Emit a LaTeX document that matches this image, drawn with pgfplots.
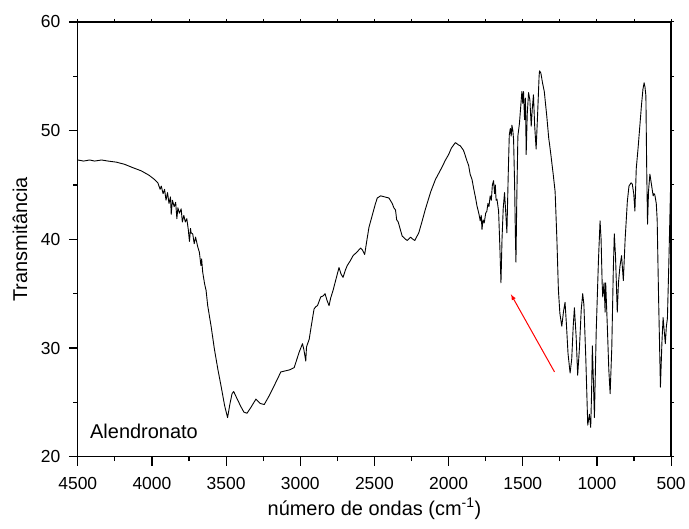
\documentclass[border=0pt]{standalone}
\usepackage{fontspec}
\setmainfont{Liberation Sans}
\usepackage{pgfplots}
\pgfplotsset{compat=1.18}

% IR spectrum, values
\pgfplotstableread{
wn T
4500 47.3
4460 47.2
4420 47.3
4386 47.2
4340 47.3
4296 47.2
4240 47.1
4184 46.9
4130 46.6
4072 46.3
4020 45.9
3982 45.5
3960 45.2
3945 44.6
3937 44.9
3925 44.2
3915 44.6
3905 43.6
3895 44.3
3885 43.3
3875 43.9
3870 42.3
3862 43.6
3850 43.0
3840 43.4
3832 41.9
3825 42.9
3815 42.4
3803 42.8
3795 41.6
3785 42.2
3775 41.6
3765 41.9
3755 40.9
3747 39.8
3740 41.0
3736 40.6
3725 40.5
3715 39.6
3706 40.2
3691 39.3
3680 38.8
3670 37.6
3665 38.2
3658 37.0
3645 35.9
3635 35.3
3624 33.9
3600 31.9
3579 29.9
3555 28.0
3534 26.5
3510 24.7
3490 23.6
3475 24.8
3460 25.8
3449 26.0
3425 25.3
3400 24.6
3380 24.1
3359 24.0
3330 24.6
3299 25.3
3270 24.9
3243 24.8
3210 25.6
3170 26.7
3131 27.8
3100 27.9
3070 28.0
3041 28.2
3008 29.6
2985 30.4
2975 29.8
2963 28.8
2958 30.1
2940 30.8
2925 32.1
2907 33.6
2895 33.8
2884 33.9
2862 34.7
2845 34.8
2833 35.0
2820 34.4
2806 33.9
2795 34.6
2779 35.3
2760 36.3
2739 37.4
2725 36.8
2712 36.5
2695 37.2
2683 37.6
2664 38.0
2644 38.5
2620 38.8
2593 39.2
2580 39.0
2566 38.6
2550 40.0
2537 41.1
2515 42.2
2495 43.2
2481 43.8
2458 44.0
2430 43.9
2402 43.8
2380 43.3
2369 42.9
2358 42.7
2350 41.8
2340 41.6
2313 40.3
2290 40.0
2279 39.9
2257 40.2
2240 40.0
2228 39.9
2201 40.6
2180 41.6
2156 42.8
2120 44.4
2089 45.5
2050 46.5
2021 47.3
2000 47.8
1981 48.4
1960 48.8
1954 48.9
1935 48.7
1921 48.6
1900 48.2
1890 47.8
1876 47.2
1865 46.8
1855 46.0
1842 45.5
1830 44.6
1818 43.8
1809 43.1
1795 42.3
1787 41.7
1780 42.2
1775 40.9
1768 41.8
1760 41.5
1750 42.4
1742 42.6
1735 43.3
1728 43.0
1720 44.0
1712 43.6
1705 45.0
1697 45.4
1690 44.2
1685 45.0
1680 43.6
1674 43.7
1663 42.6
1655 39.5
1647 36.0
1640 40.0
1632 42.8
1623 44.3
1615 42.5
1607 40.6
1598 46.0
1591 49.6
1584 50.2
1578 49.5
1573 50.5
1567 50.0
1562 49.2
1555 45.0
1550 40.5
1546 37.9
1540 44.0
1533 49.5
1523 50.6
1515 52.0
1506 53.6
1500 52.5
1495 53.6
1488 51.0
1482 53.0
1477 47.8
1470 51.5
1461 53.5
1452 52.8
1443 50.4
1436 52.0
1428 53.3
1420 50.5
1410 48.3
1400 51.5
1390 55.0
1387 55.5
1378 55.3
1367 54.4
1355 53.6
1338 51.3
1325 49.3
1318 48.6
1309 47.6
1295 46.0
1282 44.4
1270 40.0
1260 35.4
1250 33.2
1237 32.0
1225 33.4
1215 34.2
1205 32.0
1195 29.5
1181 27.7
1170 29.0
1160 32.0
1152 33.7
1140 31.0
1130 27.5
1118 30.0
1106 33.5
1096 35.0
1088 34.0
1075 29.0
1062 22.9
1051 23.9
1042 22.7
1036 26.0
1031 30.2
1024 27.0
1017 23.6
1005 31.5
990 38.0
979 41.7
972 40.0
965 36.0
961 34.7
952 36.0
945 33.3
941 36.0
930 32.0
920 28.0
911 25.8
900 30.0
890 37.0
883 40.5
875 38.5
868 35.5
863 33.3
855 36.0
845 37.5
834 38.5
822 36.2
810 40.0
795 43.5
784 44.9
770 45.2
762 45.1
752 44.2
744 42.6
735 46.5
722 48.5
711 50.4
700 52.3
690 53.8
682 54.4
676 54.0
670 53.2
665 47.0
659 41.4
652 44.5
643 46.0
632 45.0
621 44.0
615 44.2
610 44.1
600 43.3
594 41.8
585 35.0
572 26.4
562 30.5
554 32.8
546 31.5
539 30.4
532 32.0
525 32.7
515 38.0
502 45.8
}\spectrum

\begin{document}
\begin{tikzpicture}
\begin{axis}[
    width=595pt, height=436pt,
    scale only axis,
    xmin=500, xmax=4500,
    ymin=20, ymax=60,
    x dir=reverse,
    xtick={500,1000,...,4500},
    ytick={20,30,...,60},
    minor x tick num=1,
    minor y tick num=1,
    tick pos=left,
    tick align=outside,
    major tick length=9pt,
    minor tick length=4.5pt,
    axis line style={line width=1.3pt},
    tick style={black, line width=1.2pt},
    /pgf/number format/assume math mode=true,
    /pgf/number format/1000 sep={},
    tick label style={font=\fontsize{17.5}{20}\selectfont},
    x tick label style={yshift=-8pt},
    y tick label style={xshift=-5pt},
    xlabel={número de ondas (cm\textsuperscript{-1})},
    ylabel={Transmitância},
    label style={font=\fontsize{20}{24}\selectfont},
    xlabel style={at={(axis description cs:0.5,0)}, anchor=center, yshift=-52pt},
    ylabel style={at={(axis description cs:0,0.5)}, anchor=center, yshift=58pt},
    clip=false,
]
\addplot[black, line width=0.9pt, line join=round] table[x=wn, y=T] {\spectrum};
\draw[red, line width=1pt, -latex] (axis cs:1286,27.8) -- (axis cs:1580,34.95);
\node[anchor=west, font=\fontsize{20}{24}\selectfont] at (axis cs:4440,22.3) {Alendronato};
\end{axis}
% mirrored small ticks on top and right
\begin{axis}[
    width=595pt, height=436pt,
    scale only axis,
    xmin=500, xmax=4500,
    ymin=20, ymax=60,
    x dir=reverse,
    xtick={500,1000,...,4500},
    ytick={20,30,...,60},
    minor x tick num=1,
    minor y tick num=1,
    axis x line*=top,
    axis y line*=right,
    tick align=outside,
    major tick length=3pt,
    minor tick length=3pt,
    axis line style={line width=1.3pt, -},
    tick style={black, line width=1pt},
    xticklabels={}, yticklabels={},
]
\end{axis}
\path ([xshift=-78pt,yshift=-72pt]current axis.south west) rectangle ++(689pt,530pt);
\end{tikzpicture}
\end{document}
